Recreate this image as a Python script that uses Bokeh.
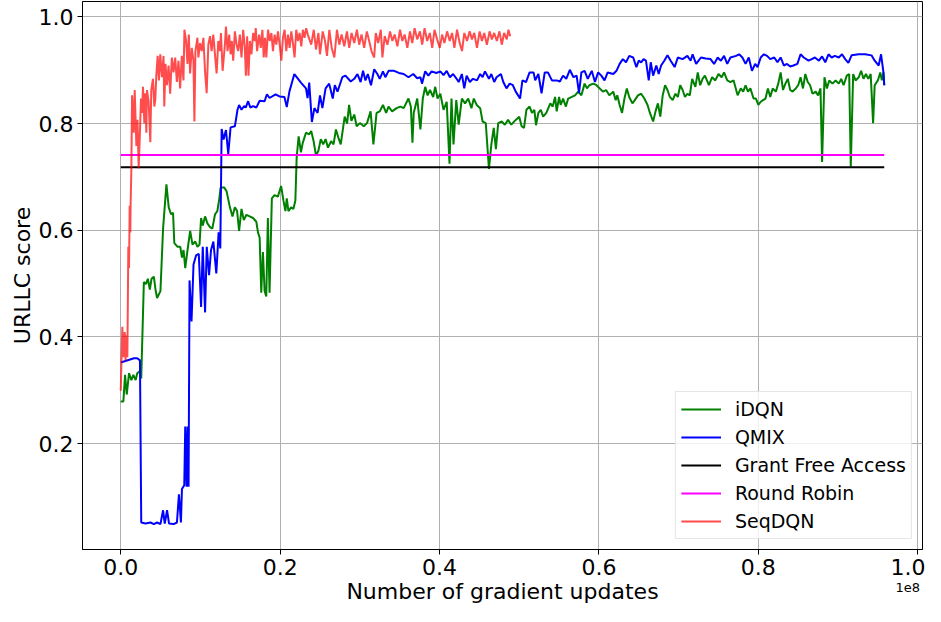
from bokeh.plotting import figure
from bokeh.models import FixedTicker, PrintfTickFormatter, Range1d, Div
from bokeh.layouts import column
from bokeh.embed import file_html
from bokeh.resources import INLINE

# x values are in units of 1e8 gradient updates
idqn_x = [0, 0.0033, 0.0054, 0.0075, 0.0104, 0.0133, 0.0158, 0.0187, 0.0207, 0.0241, 0.0257, 0.029, 0.0315, 0.034,
          0.0365, 0.0386, 0.0415, 0.0436, 0.0456, 0.0498, 0.0531, 0.0573, 0.0602, 0.0631, 0.0656, 0.0672, 0.0714,
          0.0747, 0.0768, 0.0788, 0.0809, 0.0838, 0.0871, 0.09, 0.0934, 0.0963, 0.0988, 0.1008, 0.1029, 0.1058,
          0.1087, 0.112, 0.1149, 0.1183, 0.1212, 0.1237, 0.1253, 0.1299, 0.1328, 0.137, 0.1402, 0.1432, 0.146,
          0.1485, 0.1515, 0.1544, 0.1577, 0.1618, 0.166, 0.1701, 0.1722, 0.1743, 0.1763, 0.1784, 0.1805, 0.1826,
          0.1846, 0.1867, 0.1896, 0.1929, 0.1971, 0.2012, 0.2041, 0.2066, 0.2083, 0.2104, 0.2137, 0.2166, 0.2191,
          0.2207, 0.2232, 0.2261, 0.2282, 0.2324, 0.2365, 0.239, 0.242, 0.245, 0.248, 0.251, 0.254, 0.257, 0.260,
          0.264, 0.267, 0.270, 0.273, 0.276, 0.281, 0.284, 0.2865, 0.2894, 0.293, 0.296, 0.300, 0.305, 0.309,
          0.3135, 0.317, 0.321, 0.325, 0.329, 0.333, 0.336, 0.3405, 0.346, 0.351, 0.355, 0.361, 0.364, 0.366,
          0.3676, 0.372, 0.376, 0.379, 0.382, 0.385, 0.388, 0.392, 0.3946, 0.3975, 0.401, 0.405, 0.409, 0.4125,
          0.415, 0.4175, 0.421, 0.424, 0.428, 0.432, 0.436, 0.440, 0.443, 0.4466, 0.451, 0.454, 0.458, 0.462,
          0.465, 0.468, 0.4707, 0.4736, 0.478, 0.482, 0.486, 0.490, 0.4956, 0.500, 0.503, 0.506, 0.509, 0.513,
          0.516, 0.519, 0.521, 0.524, 0.527, 0.530, 0.534, 0.539, 0.542, 0.545, 0.547, 0.550, 0.552, 0.555,
          0.5585, 0.5614, 0.566, 0.570, 0.574, 0.578, 0.582, 0.585, 0.588, 0.593, 0.597, 0.601, 0.605, 0.609,
          0.613, 0.618, 0.621, 0.623, 0.626, 0.629, 0.632, 0.635, 0.638, 0.642, 0.645, 0.649, 0.653, 0.657,
          0.661, 0.664, 0.668, 0.671, 0.674, 0.677, 0.680, 0.683, 0.686, 0.689, 0.6925, 0.696, 0.699, 0.702,
          0.705, 0.708, 0.711, 0.714, 0.717, 0.721, 0.724, 0.727, 0.730, 0.733, 0.738, 0.742, 0.746, 0.750,
          0.754, 0.757, 0.761, 0.765, 0.769, 0.774, 0.778, 0.781, 0.784, 0.787, 0.790, 0.794, 0.797, 0.800,
          0.803, 0.806, 0.809, 0.812, 0.815, 0.818, 0.822, 0.825, 0.828, 0.831, 0.834, 0.837, 0.840, 0.843,
          0.847, 0.850, 0.853, 0.856, 0.859, 0.862, 0.865, 0.868, 0.872, 0.875, 0.878, 0.880, 0.883, 0.886,
          0.889, 0.893, 0.897, 0.901, 0.904, 0.907, 0.911, 0.914, 0.916, 0.919, 0.922, 0.926, 0.929, 0.932,
          0.935, 0.938, 0.941, 0.944, 0.946, 0.950, 0.953, 0.955, 0.957, 0.958]
idqn_y = [0.279, 0.279, 0.329, 0.292, 0.332, 0.319, 0.329, 0.319, 0.332, 0.336, 0.322, 0.503, 0.499, 0.509,
          0.489, 0.509, 0.513, 0.489, 0.473, 0.486, 0.603, 0.686, 0.643, 0.630, 0.633, 0.576, 0.569,
          0.569, 0.549, 0.563, 0.529, 0.563, 0.599, 0.573, 0.579, 0.569, 0.573, 0.623, 0.609, 0.626,
          0.613, 0.606, 0.603, 0.630, 0.636, 0.660, 0.680, 0.680, 0.673, 0.643, 0.626, 0.643, 0.636,
          0.599, 0.640, 0.619, 0.629, 0.626, 0.623, 0.616, 0.596, 0.586, 0.483, 0.559, 0.486, 0.476,
          0.623, 0.483, 0.660, 0.666, 0.663, 0.683, 0.656, 0.636, 0.660, 0.636, 0.643, 0.640, 0.656,
          0.736, 0.776, 0.746, 0.763, 0.783, 0.780, 0.786, 0.767, 0.740, 0.749, 0.771, 0.761, 0.771, 0.755,
          0.767, 0.761, 0.789, 0.774, 0.761, 0.813, 0.800, 0.835, 0.805, 0.817, 0.795, 0.801, 0.795, 0.801,
          0.823, 0.761, 0.820, 0.823, 0.835, 0.820, 0.832, 0.823, 0.829, 0.832, 0.829, 0.847, 0.832, 0.764,
          0.820, 0.847, 0.789, 0.847, 0.869, 0.853, 0.863, 0.850, 0.869, 0.847, 0.856, 0.826, 0.841, 0.725,
          0.847, 0.761, 0.844, 0.798, 0.847, 0.838, 0.847, 0.829, 0.847, 0.835, 0.829, 0.804, 0.801, 0.715,
          0.761, 0.792, 0.752, 0.801, 0.804, 0.798, 0.807, 0.798, 0.807, 0.813, 0.795, 0.792, 0.826, 0.832,
          0.820, 0.826, 0.797, 0.820, 0.826, 0.813, 0.820, 0.838, 0.832, 0.850, 0.823, 0.850, 0.835, 0.847,
          0.832, 0.847, 0.850, 0.853, 0.860, 0.853, 0.875, 0.866, 0.872, 0.875, 0.872, 0.866, 0.860, 0.863,
          0.853, 0.860, 0.844, 0.853, 0.835, 0.820, 0.847, 0.866, 0.850, 0.838, 0.844, 0.853, 0.856, 0.847,
          0.835, 0.820, 0.804, 0.823, 0.838, 0.813, 0.853, 0.872, 0.863, 0.850, 0.844, 0.856, 0.850, 0.872,
          0.863, 0.850, 0.856, 0.853, 0.884, 0.869, 0.896, 0.872, 0.884, 0.890, 0.872, 0.887, 0.881, 0.893,
          0.887, 0.896, 0.881, 0.878, 0.881, 0.853, 0.866, 0.860, 0.872, 0.860, 0.866, 0.847, 0.847, 0.835,
          0.841, 0.844, 0.847, 0.866, 0.850, 0.866, 0.860, 0.875, 0.896, 0.863, 0.875, 0.884, 0.863, 0.860,
          0.866, 0.872, 0.887, 0.866, 0.893, 0.878, 0.872, 0.856, 0.860, 0.853, 0.866, 0.728, 0.887, 0.866,
          0.881, 0.875, 0.881, 0.875, 0.884, 0.872, 0.890, 0.893, 0.719, 0.893, 0.881, 0.887, 0.899, 0.884,
          0.893, 0.884, 0.893, 0.801, 0.872, 0.881, 0.896, 0.881, 0.896, 0.872]

qmix_x = [0, 0.0166, 0.0207, 0.0241, 0.0257, 0.0311, 0.0373, 0.0415, 0.0456, 0.0498, 0.0531, 0.0552, 0.0581,
          0.0606, 0.0664, 0.0705, 0.0730, 0.0755, 0.0768, 0.0797, 0.0809, 0.0826, 0.0838, 0.0851, 0.0863,
          0.0888, 0.0913, 0.0946, 0.0979, 0.1008, 0.1029, 0.1058, 0.1079, 0.1108, 0.1133, 0.1162, 0.1199,
          0.1228, 0.1249, 0.1266, 0.1290, 0.1320, 0.1349, 0.1378, 0.1432, 0.1465, 0.1485, 0.1515, 0.1548,
          0.1568, 0.1598, 0.1627, 0.1660, 0.1701, 0.1743, 0.1805, 0.1834, 0.1867, 0.1942, 0.1992, 0.2054,
          0.2083, 0.2116, 0.2178, 0.2220, 0.2261, 0.2324, 0.2344, 0.2365, 0.2398, 0.243, 0.247, 0.250, 0.253,
          0.257, 0.2615, 0.266, 0.2686, 0.272, 0.278, 0.282, 0.2886, 0.293, 0.297, 0.301, 0.304, 0.307, 0.310,
          0.314, 0.318, 0.322, 0.325, 0.329, 0.332, 0.336, 0.343, 0.349, 0.355, 0.361, 0.367, 0.372, 0.376,
          0.378, 0.382, 0.386, 0.390, 0.396, 0.401, 0.405, 0.409, 0.413, 0.417, 0.421, 0.424, 0.428, 0.431,
          0.434, 0.438, 0.442, 0.447, 0.451, 0.454, 0.457, 0.462, 0.465, 0.4686, 0.4715, 0.477, 0.480, 0.484,
          0.488, 0.492, 0.4956, 0.501, 0.504, 0.5085, 0.513, 0.518, 0.520, 0.524, 0.528, 0.532, 0.536, 0.541,
          0.547, 0.551, 0.555, 0.559, 0.5635, 0.568, 0.572, 0.575, 0.578, 0.582, 0.586, 0.591, 0.595, 0.599,
          0.603, 0.607, 0.611, 0.618, 0.622, 0.626, 0.630, 0.634, 0.638, 0.643, 0.647, 0.650, 0.653, 0.656,
          0.659, 0.6625, 0.665, 0.668, 0.672, 0.675, 0.678, 0.682, 0.686, 0.690, 0.695, 0.699, 0.705, 0.711,
          0.715, 0.7175, 0.722, 0.728, 0.734, 0.740, 0.7445, 0.749, 0.753, 0.757, 0.761, 0.765, 0.772, 0.776,
          0.780, 0.784, 0.788, 0.792, 0.796, 0.799, 0.803, 0.807, 0.811, 0.815, 0.820, 0.824, 0.828, 0.832,
          0.836, 0.840, 0.844, 0.849, 0.853, 0.857, 0.863, 0.867, 0.871, 0.876, 0.880, 0.884, 0.888, 0.892,
          0.896, 0.901, 0.905, 0.909, 0.913, 0.917, 0.926, 0.934, 0.942, 0.946, 0.951, 0.954, 0.957, 0.958]
qmix_y = [0.352, 0.360, 0.360, 0.356, 0.052, 0.050, 0.052, 0.049, 0.052, 0.049, 0.075, 0.050, 0.075,
          0.050, 0.049, 0.052, 0.105, 0.052, 0.115, 0.122, 0.232, 0.119, 0.232, 0.119, 0.506,
          0.429, 0.536, 0.553, 0.556, 0.456, 0.569, 0.446, 0.569, 0.516, 0.563, 0.579, 0.519,
          0.596, 0.566, 0.790, 0.770, 0.788, 0.743, 0.793, 0.795, 0.826, 0.835, 0.826, 0.833,
          0.830, 0.842, 0.830, 0.833, 0.830, 0.843, 0.842, 0.855, 0.848, 0.855, 0.851, 0.850,
          0.831, 0.860, 0.893, 0.885, 0.877, 0.866, 0.848, 0.877, 0.803, 0.829, 0.820, 0.853, 0.829,
          0.866, 0.875, 0.847, 0.872, 0.860, 0.887, 0.890, 0.879, 0.884, 0.893, 0.878, 0.899, 0.881, 0.893,
          0.872, 0.902, 0.893, 0.884, 0.898, 0.887, 0.899, 0.899, 0.895, 0.893, 0.887, 0.893, 0.885, 0.887,
          0.875, 0.898, 0.890, 0.898, 0.895, 0.898, 0.891, 0.899, 0.887, 0.893, 0.885, 0.878, 0.893, 0.866,
          0.890, 0.878, 0.884, 0.881, 0.893, 0.887, 0.898, 0.884, 0.893, 0.878, 0.887, 0.893, 0.878, 0.866,
          0.875, 0.872, 0.860, 0.847, 0.881, 0.878, 0.896, 0.896, 0.881, 0.893, 0.857, 0.896, 0.896, 0.881,
          0.881, 0.879, 0.890, 0.884, 0.901, 0.887, 0.890, 0.857, 0.896, 0.899, 0.884, 0.899, 0.878, 0.896,
          0.890, 0.881, 0.896, 0.893, 0.899, 0.912, 0.921, 0.915, 0.927, 0.924, 0.906, 0.918, 0.915, 0.921,
          0.918, 0.881, 0.915, 0.890, 0.909, 0.893, 0.909, 0.918, 0.928, 0.918, 0.906, 0.924, 0.921, 0.927,
          0.918, 0.930, 0.912, 0.924, 0.922, 0.921, 0.912, 0.924, 0.918, 0.927, 0.912, 0.924, 0.927, 0.930,
          0.924, 0.912, 0.924, 0.899, 0.912, 0.906, 0.924, 0.930, 0.927, 0.921, 0.924, 0.915, 0.924, 0.909,
          0.912, 0.907, 0.909, 0.912, 0.930, 0.924, 0.918, 0.921, 0.924, 0.918, 0.926, 0.915, 0.930, 0.924,
          0.927, 0.924, 0.930, 0.921, 0.914, 0.928, 0.930, 0.930, 0.928, 0.918, 0.909, 0.930, 0.896, 0.872]

seqdqn_x = [0, 0.0008, 0.002, 0.0033, 0.005, 0.006, 0.0075, 0.0083, 0.0095, 0.0104, 0.0112, 0.012, 0.0124,
            0.0133, 0.0142, 0.0163, 0.0175, 0.0196, 0.021, 0.0225, 0.0238, 0.0254, 0.0267, 0.0279, 0.0296,
            0.0308, 0.0321, 0.0329, 0.035, 0.0371, 0.0383, 0.0404, 0.0421, 0.0433, 0.0446, 0.0463, 0.0479,
            0.0496, 0.0517, 0.0537, 0.0546, 0.0562, 0.0579, 0.06, 0.062, 0.0641, 0.0662, 0.0683, 0.0704,
            0.0724, 0.0745, 0.0766, 0.0787, 0.0799, 0.082, 0.0837, 0.0854, 0.087, 0.0891, 0.0912, 0.0924,
            0.0937, 0.0962, 0.0974, 0.0995, 0.1016, 0.1037, 0.1057, 0.1078, 0.1099, 0.112, 0.114, 0.1161,
            0.1182, 0.1203, 0.1224, 0.1245, 0.1257, 0.1278, 0.1307, 0.132, 0.134, 0.1361, 0.1378, 0.1394,
            0.1411, 0.1432, 0.1453, 0.1474, 0.1494, 0.1515, 0.1536, 0.1557, 0.157, 0.1586, 0.1603, 0.162,
            0.164, 0.1661, 0.1682, 0.1694, 0.1711, 0.1736, 0.1757, 0.1777, 0.1794, 0.181, 0.1827, 0.1848,
            0.1869, 0.189, 0.191, 0.1931, 0.1952, 0.1973, 0.1994, 0.2015, 0.2035, 0.2056, 0.2077, 0.2098,
            0.2119, 0.214, 0.216, 0.2181, 0.2202, 0.2223, 0.2244, 0.2265, 0.2285, 0.2306, 0.2327, 0.2347,
            0.239, 0.2422, 0.245, 0.248, 0.250, 0.2534, 0.2563, 0.2588, 0.2617, 0.2647, 0.268, 0.2713, 0.2742,
            0.2771, 0.2805, 0.2838, 0.2867, 0.2896, 0.293, 0.2963, 0.2992, 0.3021, 0.3054, 0.3088, 0.3117,
            0.3146, 0.318, 0.32, 0.323, 0.3263, 0.3283, 0.3312, 0.3346, 0.3379, 0.3408, 0.3437, 0.3471,
            0.3504, 0.3533, 0.3562, 0.3596, 0.3629, 0.3658, 0.3687, 0.372, 0.3754, 0.3783, 0.3812, 0.3845,
            0.3878, 0.3908, 0.3937, 0.397, 0.4003, 0.4032, 0.4061, 0.4095, 0.4128, 0.4157, 0.4186, 0.422,
            0.4253, 0.4282, 0.4311, 0.4345, 0.4378, 0.4407, 0.4436, 0.447, 0.4503, 0.4532, 0.4561, 0.4594,
            0.4628, 0.4657, 0.4686, 0.4719, 0.4752, 0.4781, 0.481, 0.4844, 0.4865, 0.4886]
seqdqn_y = [0.299, 0.349, 0.419, 0.362, 0.409, 0.356, 0.403, 0.362, 0.569, 0.529, 0.646, 0.596, 0.650,
            0.716, 0.853, 0.783, 0.863, 0.758, 0.807, 0.716, 0.771, 0.847, 0.820, 0.869, 0.801,
            0.857, 0.783, 0.863, 0.841, 0.765, 0.863, 0.884, 0.832, 0.844, 0.890, 0.927, 0.881,
            0.930, 0.887, 0.927, 0.832, 0.912, 0.872, 0.909, 0.856, 0.924, 0.896, 0.924, 0.878,
            0.918, 0.866, 0.927, 0.881, 0.976, 0.955, 0.912, 0.967, 0.894, 0.942, 0.918, 0.804,
            0.936, 0.961, 0.924, 0.951, 0.936, 0.961, 0.899, 0.857, 0.948, 0.964, 0.936, 0.967,
            0.930, 0.894, 0.955, 0.936, 0.970, 0.899, 0.948, 0.982, 0.936, 0.967, 0.930, 0.955,
            0.918, 0.973, 0.948, 0.936, 0.967, 0.924, 0.976, 0.942, 0.890, 0.964, 0.890, 0.955,
            0.930, 0.970, 0.955, 0.979, 0.936, 0.967, 0.942, 0.976, 0.924, 0.961, 0.924, 0.976,
            0.955, 0.970, 0.936, 0.967, 0.948, 0.973, 0.948, 0.918, 0.961, 0.976, 0.936, 0.967,
            0.942, 0.973, 0.951, 0.924, 0.976, 0.955, 0.970, 0.945, 0.976, 0.961, 0.979, 0.967,
            0.948, 0.976, 0.939, 0.970, 0.930, 0.973, 0.955, 0.927, 0.976, 0.942, 0.924, 0.976, 0.948,
            0.967, 0.945, 0.973, 0.942, 0.970, 0.951, 0.976, 0.948, 0.967, 0.942, 0.973, 0.955,
            0.936, 0.924, 0.970, 0.951, 0.976, 0.924, 0.964, 0.948, 0.973, 0.955, 0.967, 0.945,
            0.976, 0.955, 0.967, 0.942, 0.973, 0.951, 0.979, 0.958, 0.973, 0.948, 0.979, 0.955,
            0.970, 0.942, 0.976, 0.958, 0.942, 0.967, 0.951, 0.973, 0.955, 0.970, 0.942, 0.976,
            0.951, 0.936, 0.970, 0.955, 0.973, 0.958, 0.970, 0.942, 0.973, 0.955, 0.970, 0.948,
            0.973, 0.958, 0.970, 0.955, 0.973, 0.948, 0.970, 0.958, 0.976, 0.964]

grant_free_access = 0.718
round_robin = 0.741

x_ticks = [0.0, 0.2, 0.4, 0.6, 0.8, 1.0]
y_ticks = [0.2, 0.4, 0.6, 0.8, 1.0]
x_offset_text = "1e8"

FONT = "DejaVu Sans"

p = figure(width=925, height=606, output_backend="svg", toolbar_location=None,
           x_range=Range1d(-0.048, 1.006), y_range=Range1d(0.0014, 1.029),
           min_border_left=82, min_border_right=3, min_border_top=1, min_border_bottom=54)
p.background_fill_color = "white"
p.border_fill_color = "white"
p.outline_line_color = "black"
p.outline_line_width = 1

p.line(idqn_x, idqn_y, line_color="#008000", line_width=2, legend_label="iDQN")
p.line(qmix_x, qmix_y, line_color="#0000ff", line_width=2, legend_label="QMIX")
x_span = [min(qmix_x), max(qmix_x)]
p.line(x_span, [grant_free_access] * 2, line_color="black", line_width=2, legend_label="Grant Free Access")
p.line(x_span, [round_robin] * 2, line_color="#ff00ff", line_width=2, legend_label="Round Robin")
p.line(seqdqn_x, seqdqn_y, line_color="#ff0000", line_alpha=0.7, line_width=2, legend_label="SeqDQN")

p.xaxis.ticker = FixedTicker(ticks=x_ticks)
p.yaxis.ticker = FixedTicker(ticks=y_ticks)
p.xaxis.formatter = PrintfTickFormatter(format="%.1f")
p.yaxis.formatter = PrintfTickFormatter(format="%.1f")
p.xaxis.axis_label = "Number of gradient updates"
p.yaxis.axis_label = "URLLC score"
for ax in (p.xaxis, p.yaxis):
    ax.axis_label_text_font = FONT
    ax.axis_label_text_font_size = "22px"
    ax.axis_label_text_font_style = "normal"
    ax.axis_label_text_color = "black"
    ax.major_label_text_font = FONT
    ax.major_label_text_font_size = "22px"
    ax.major_label_text_color = "black"
    ax.major_tick_in = 0
    ax.major_tick_out = 5
    ax.minor_tick_in = 0
    ax.minor_tick_out = 0
    ax.major_tick_line_color = "black"
    ax.axis_line_color = "black"
    ax.major_label_standoff = 4
    ax.axis_label_standoff = 1

p.grid.grid_line_color = "#b0b0b0"
p.grid.grid_line_width = 1

lg = p.legend[0]
lg.location = "bottom_right"
lg.margin = 10
lg.padding = 5
lg.spacing = 4
lg.label_height = 24
lg.glyph_height = 24
lg.glyph_width = 40
lg.label_standoff = 14
lg.label_text_font = FONT
lg.label_text_font_size = "19px"
lg.label_text_color = "black"
lg.border_line_color = "#cccccc"
lg.border_line_width = 1
lg.background_fill_alpha = 0.8

offset_div = Div(text=x_offset_text, width=30, height=16, margin=(-26, 0, 0, 890),
                 styles={"font-family": FONT, "font-size": "13px", "color": "black",
                         "text-align": "right", "line-height": "16px"})

layout = column(p, offset_div, spacing=0)
open("out.html", "w").write(file_html(layout, INLINE))
